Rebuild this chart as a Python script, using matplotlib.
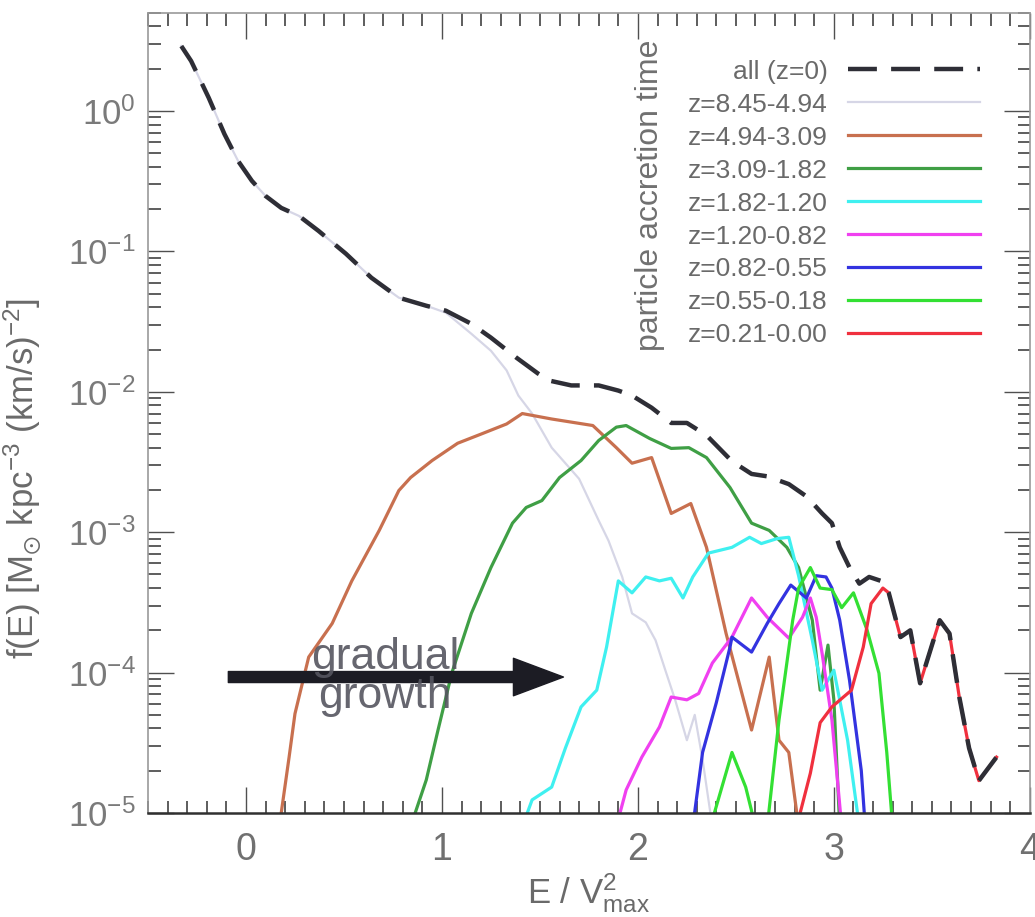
import matplotlib
matplotlib.use("Agg")
import matplotlib.pyplot as plt
from matplotlib.ticker import MultipleLocator, LogLocator, NullFormatter

plt.rcParams['font.family'] = ['Liberation Sans', 'DejaVu Sans']
plt.rcParams['mathtext.fontset'] = 'custom'
plt.rcParams['mathtext.rm'] = 'Liberation Sans'
plt.rcParams['mathtext.it'] = 'Liberation Sans:italic'
plt.rcParams['mathtext.default'] = 'regular'

# ---- data (E / Vmax^2, f(E)) ----
e_all = [-0.33, -0.28, -0.19, -0.11, -0.04, 0.03, 0.10, 0.18, 0.27, 0.37, 0.51, 0.64, 0.78, 0.92,
         1.02, 1.15, 1.25, 1.38, 1.49, 1.55, 1.66, 1.80, 1.90, 1.97, 2.07, 2.17, 2.25, 2.35, 2.48,
         2.58, 2.66, 2.77, 2.86, 2.94, 2.99, 3.03, 3.08, 3.13, 3.18, 3.24, 3.28, 3.34, 3.39, 3.44,
         3.54, 3.59, 3.64, 3.69, 3.74, 3.83]
f_all = [2.9, 2.27, 1.24, 0.685, 0.44, 0.318, 0.248, 0.204, 0.179, 0.140, 0.0962, 0.0649, 0.0468,
         0.0410, 0.0378, 0.0305, 0.0243, 0.0175, 0.0135, 0.0120, 0.0111, 0.0111, 0.0102, 0.0094,
         0.0077, 0.0060, 0.0060, 0.0049, 0.0032, 0.0026, 0.0025, 0.0022, 0.0018, 0.00136, 0.00116,
         0.00078, 0.00056, 0.00043, 0.00048, 0.00045, 0.00037, 1.79e-4, 2.0e-4, 8.4e-5, 2.36e-4,
         1.9e-4, 6.7e-5, 2.9e-5, 1.7e-5, 2.5e-5]

e_z1 = [-0.33, -0.28, -0.19, -0.11, -0.04, 0.03, 0.10, 0.18, 0.27, 0.37, 0.51, 0.64, 0.78, 0.92,
        1.02, 1.15, 1.25, 1.33, 1.39, 1.46, 1.56, 1.70, 1.80, 1.85, 1.92, 1.97, 2.04, 2.09, 2.14,
        2.19, 2.25, 2.29, 2.33, 2.38]
f_z1 = [2.9, 2.27, 1.24, 0.685, 0.44, 0.318, 0.248, 0.204, 0.179, 0.140, 0.0962, 0.0649, 0.0468,
        0.0410, 0.0366, 0.0259, 0.0196, 0.0142, 0.0094, 0.0070, 0.0040, 0.0024, 0.00121, 0.00087,
        0.00048, 2.64e-4, 2.28e-4, 1.7e-4, 1.04e-4, 6.4e-5, 3.3e-5, 5.0e-5, 2.4e-5, 8e-6]

e_z2 = [0.17, 0.22, 0.25, 0.32, 0.44, 0.54, 0.68, 0.78, 0.84, 0.95, 1.08, 1.20, 1.33, 1.41, 1.56,
        1.77, 1.89, 1.97, 2.07, 2.17, 2.27, 2.35, 2.45, 2.58, 2.67, 2.72, 2.77, 2.82]
f_z2 = [8e-6, 2.5e-5, 5.1e-5, 1.29e-4, 2.24e-4, 4.5e-4, 1.03e-3, 1.98e-3, 2.45e-3, 3.24e-3, 4.3e-3,
        5.0e-3, 5.9e-3, 7.0e-3, 6.4e-3, 5.75e-3, 4.0e-3, 3.1e-3, 3.4e-3, 1.36e-3, 1.6e-3, 7.8e-4,
        1.9e-4, 3.9e-5, 1.29e-4, 3.3e-5, 2.7e-5, 8e-6]

e_z3 = [0.84, 0.92, 0.98, 1.05, 1.15, 1.25, 1.36, 1.43, 1.51, 1.60, 1.71, 1.80, 1.89, 1.94, 2.06,
        2.17, 2.26, 2.35, 2.47, 2.58, 2.67, 2.76, 2.82, 2.89, 2.93, 2.97, 3.00, 3.03]
f_z3 = [8e-6, 1.72e-5, 3.9e-5, 9.9e-5, 2.64e-4, 5.6e-4, 1.16e-3, 1.5e-3, 1.68e-3, 2.45e-3, 3.24e-3,
        4.5e-3, 5.6e-3, 5.75e-3, 4.65e-3, 3.95e-3, 4.0e-3, 3.4e-3, 2.08e-3, 1.16e-3, 1.03e-3,
        7.8e-4, 5.6e-4, 2.36e-4, 7.5e-5, 1.57e-4, 6.4e-5, 8e-6]

e_z4 = [1.41, 1.46, 1.56, 1.63, 1.71, 1.79, 1.84, 1.90, 1.97, 2.04, 2.11, 2.17, 2.23, 2.28, 2.36,
        2.48, 2.57, 2.63, 2.71, 2.77, 2.82, 2.89, 2.94, 3.00, 3.07, 3.13]
f_z4 = [8e-6, 1.24e-5, 1.53e-5, 2.9e-5, 5.7e-5, 7.5e-5, 1.52e-4, 4.5e-4, 3.7e-4, 4.8e-4, 4.5e-4,
        4.7e-4, 3.4e-4, 4.8e-4, 7.1e-4, 7.8e-4, 9.2e-4, 8.3e-4, 9.0e-4, 9.2e-4, 4.9e-4, 1.7e-4,
        7.5e-5, 1.04e-4, 3.3e-5, 8e-6]

e_z5 = [1.89, 1.94, 2.02, 2.11, 2.17, 2.25, 2.31, 2.38, 2.48, 2.58, 2.66, 2.77, 2.84, 2.88, 2.91,
        2.94, 2.99, 3.04]
f_z5 = [8e-6, 1.46e-5, 2.5e-5, 4.1e-5, 6.7e-5, 6.4e-5, 7.1e-5, 1.17e-4, 1.79e-4, 3.4e-4, 2.48e-4,
        1.76e-4, 2.48e-4, 3.4e-4, 2.48e-4, 1.37e-4, 4.6e-5, 8e-6]

e_z6 = [2.28, 2.33, 2.40, 2.47, 2.48, 2.58, 2.66, 2.72, 2.78, 2.86, 2.91, 2.96, 2.99, 3.03, 3.08,
        3.14, 3.16]
f_z6 = [8e-6, 2.7e-5, 6.1e-5, 1.52e-4, 1.79e-4, 1.4e-4, 2.24e-4, 3.1e-4, 4.2e-4, 3.4e-4, 4.9e-4,
        4.8e-4, 4.0e-4, 2.36e-4, 8.8e-5, 2.0e-5, 8e-6]

e_z7 = [2.37, 2.48, 2.55, 2.60, 2.66, 2.72, 2.79, 2.82, 2.88, 2.93, 2.99, 3.04, 3.10, 3.17, 3.23,
        3.27, 3.30]
f_z7 = [8e-6, 2.7e-5, 1.53e-5, 8e-6, 8e-6, 4.6e-5, 2.36e-4, 4.0e-4, 5.6e-4, 4.0e-4, 3.9e-4, 2.9e-4,
        3.7e-4, 2.0e-4, 9.9e-5, 2.7e-5, 8e-6]

e_z8 = [2.81, 2.88, 2.93, 2.99, 3.09, 3.15, 3.19, 3.25, 3.28, 3.34, 3.39, 3.44, 3.54, 3.59, 3.64,
        3.69, 3.74, 3.83]
f_z8 = [8e-6, 1.92e-5, 4.4e-5, 5.7e-5, 7.5e-5, 1.52e-4, 3.1e-4, 4.0e-4, 3.7e-4, 1.79e-4, 2.0e-4,
        8.4e-5, 2.36e-4, 1.9e-4, 6.7e-5, 2.9e-5, 1.7e-5, 2.5e-5]

labels = ['all (z=0)', 'z=8.45-4.94', 'z=4.94-3.09', 'z=3.09-1.82', 'z=1.82-1.20',
          'z=1.20-0.82', 'z=0.82-0.55', 'z=0.55-0.18', 'z=0.21-0.00']
colors = ['#2e2e36', '#d6d6e6', '#c8704f', '#3f9f45', '#3ff0f0', '#f040f0', '#3333e0',
          '#33e033', '#f0303e']

series = [(e_z1, f_z1), (e_z2, f_z2), (e_z3, f_z3), (e_z4, f_z4), (e_z5, f_z5),
          (e_z6, f_z6), (e_z7, f_z7), (e_z8, f_z8)]

fig = plt.figure(figsize=(10.35, 9.17), dpi=100)
ax = fig.add_axes([0.143, 0.1134, 0.852, 0.8726])

handles = {}
for i, (e, f) in enumerate(series):
    lw = 1.6 if i == 0 else 2.3
    h, = ax.plot(e, f, color=colors[i + 1], lw=lw, label=labels[i + 1], zorder=2)
    handles[labels[i + 1]] = h
h_all, = ax.plot(e_all, f_all, color=colors[0], lw=3.2, dashes=(6.5, 3.2), label=labels[0], zorder=3)
handles[labels[0]] = h_all

ax.set_yscale('log')
ax.set_xlim(-0.5, 4.0)
ax.set_ylim(1e-5, 5)

ax.xaxis.set_major_locator(MultipleLocator(1))
ax.xaxis.set_minor_locator(MultipleLocator(0.1))
ax.yaxis.set_major_locator(LogLocator(base=10, numticks=10))
ax.yaxis.set_minor_locator(LogLocator(base=10, subs=range(2, 10), numticks=20))
ax.yaxis.set_minor_formatter(NullFormatter())

ax.tick_params(which='both', direction='in', top=True, right=True, color='#505050')
ax.tick_params(which='major', length=19, width=1.0)
ax.tick_params(which='minor', length=9, width=1.3)
ax.tick_params(axis='x', which='major', labelsize=27, labelcolor='#707070', pad=14)
ax.tick_params(axis='y', which='major', labelsize=25, labelcolor='#7a7a7a', pad=9)

for side in ['top', 'right', 'left']:
    ax.spines[side].set_color('#9a9a9a')
    ax.spines[side].set_linewidth(1.2)
ax.spines['bottom'].set_color('#303030')
ax.spines['bottom'].set_linewidth(1.8)

ax.set_xlabel(r'E / V$^{2}_{max}$', fontsize=25, color='#6a6a6a', labelpad=2)
fig.text(0.022, 0.478, r'f(E) [M$_{\odot}$ kpc$^{-3}$ (km/s)$^{-2}$]', rotation=90,
         ha='center', va='center', fontsize=25, color='#6a6a6a')

# arrow with annotation
ax.annotate('', xy=(1.62, 9.3e-5), xytext=(-0.09, 9.3e-5),
            arrowprops=dict(arrowstyle='simple,head_length=1.0,head_width=0.75,tail_width=0.22',
                            mutation_scale=36, color='#1c1c24', shrinkA=0, shrinkB=0), zorder=4)
ax.text(0.71, 9.3e-5, 'gradual\ngrowth', ha='center', va='center', fontsize=32,
        color='#55555f', alpha=0.9, linespacing=0.95, zorder=5)

order = labels
leg = ax.legend([handles[l] for l in order], order, loc='upper right',
                bbox_to_anchor=(0.943, 0.9415), frameon=False, markerfirst=False,
                fontsize=19, handlelength=5.0, handletextpad=0.75, labelspacing=0.34,
                borderpad=0, borderaxespad=0)
for t in leg.get_texts():
    t.set_color('#6a6a6a')
ax.text(0.569, 0.7725, 'particle accretion time', transform=ax.transAxes, rotation=90,
        ha='center', va='center', fontsize=23, color='#707070')

fig.savefig('out.png', dpi=100)
